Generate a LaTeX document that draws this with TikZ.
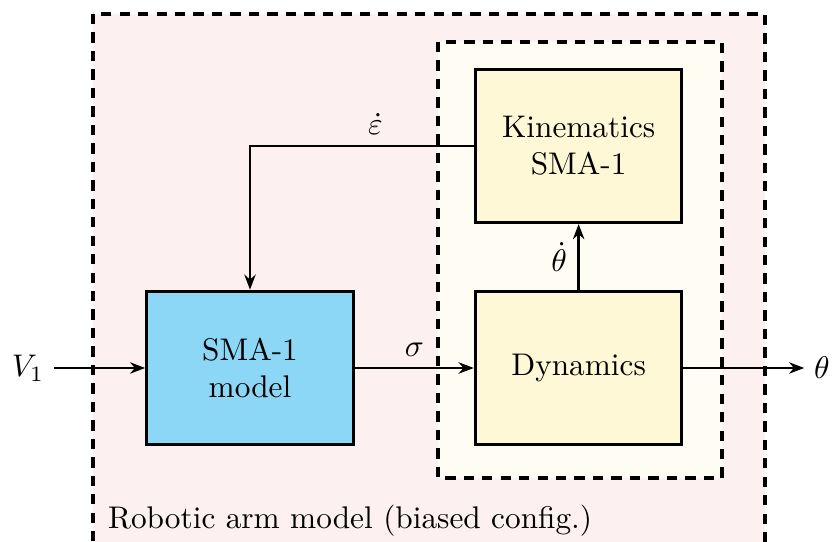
\documentclass[tikz,border=0pt]{standalone}
\usepackage{xcolor}
\usepackage{amsmath,amssymb}
\usepackage{tikz}
\usetikzlibrary{positioning,arrows.meta,backgrounds}
\definecolor{ink}{HTML}{000000}
\definecolor{pinkbg}{HTML}{FDF0F0}
\definecolor{creambg}{HTML}{FFFDF3}
\definecolor{yellowbg}{HTML}{FFF8D6}
\definecolor{cyanbg}{HTML}{8BD7F5}
\tikzset{
  blk/.style={rectangle,draw=ink,line width=1pt,align=center,
    minimum width=66pt,minimum height=49pt,inner sep=3pt},
  blkc/.style={blk,fill=cyanbg},
  blky/.style={blk,fill=yellowbg},
  ar/.style={-{Stealth[length=1.7mm]},thick,draw=ink},
  frm/.style={draw=ink,line width=1pt,dash pattern=on 3.3pt off 2.6pt},
  lbl/.style={inner sep=3pt},
}

\begin{document}
\begin{tikzpicture}[x=0.3195pt,y=-0.3195pt]
  \useasboundingbox (0,0) rectangle (839,542);
  \node[blkc] (sma) at (250,368) {SMA-1\\model};
  \node[blky,right=38pt of sma] (dyn) {Dynamics};
  \node[blky,above=21pt of dyn] (kin) {Kinematics\\SMA-1};
  \node[lbl] (vin) at (28,368) {$V_1$};
  \node[lbl] (out) at (822,368) {$\theta$};
  \draw[ar] (vin)--(sma);
  \draw[ar] (sma)--node[above]{$\sigma$}(dyn);
  \draw[ar] (dyn)--node[left]{$\dot{\theta}$}(kin);
  \draw[ar] (kin.west)-|node[above,pos=0.22]{$\dot{\varepsilon}$}(sma.north);
  \draw[ar] (dyn)--(out);
  \node[lbl,anchor=west] (cap) at (98,521) {Robotic arm model (biased config.)};
  \begin{scope}[on background layer]
    \draw[frm,fill=pinkbg] (93,14) rectangle (765,570);
    \draw[frm,fill=creambg] (438,42) rectangle (722,478);
  \end{scope}
\end{tikzpicture}
\end{document}
